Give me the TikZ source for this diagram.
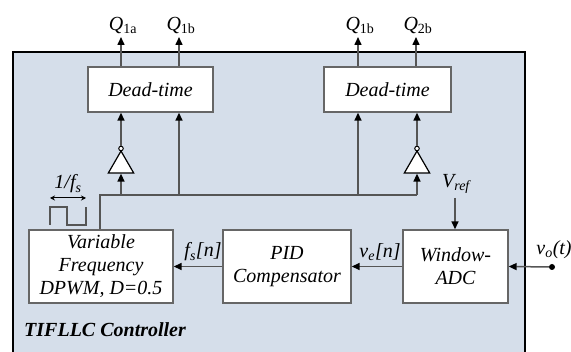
\documentclass[tikz,border=0pt]{standalone}
\usepackage{fontspec}
\setmainfont{Liberation Serif}[Ligatures=TeX]
\newfontfamily\tms{Liberation Serif}
\usetikzlibrary{arrows.meta,shapes.geometric}
\definecolor{bgblue}{HTML}{D5DEEA}
\definecolor{lingray}{HTML}{555555}
\begin{document}
\begin{tikzpicture}[x=1pt,y=-1pt,
  txt/.style={font=\tms\fontsize{20}{23}\selectfont\itshape, inner sep=1pt},
  blk/.style={draw=gray!80!black, line width=1.4pt, fill=white, inner sep=0pt, align=center, txt},
  wire/.style={draw=lingray, line width=1.5pt},
  arr/.style={wire, -{Triangle[length=8pt,width=7pt,color=black]}},
  inv/.style={regular polygon, regular polygon sides=3, minimum size=29.3pt, inner sep=0pt, draw=black, fill=white, line width=1.2pt},
  bub/.style={circle, draw=black, fill=white, inner sep=0pt, minimum size=4.5pt, line width=1pt}]
\useasboundingbox (0,0) rectangle (571,352);
\clip (0,0) rectangle (571,352);
% controller frame
\draw[black, line width=1.4pt, fill=bgblue] (13,52) rectangle (525,370);
% blocks
\node[blk, minimum width=125pt, minimum height=45pt] (dt1) at (150.5,89.5) {Dead-time};
\node[blk, minimum width=127pt, minimum height=45pt] (dt2) at (387.5,89.5) {Dead-time};
\node[blk, minimum width=144pt, minimum height=73pt] (dpwm) at (101,266.5) {Variable\\Frequency\\DPWM, \textit{D}=0.5};
\node[blk, minimum width=128pt, minimum height=73pt] (pid) at (287,266.5) {PID\\Compensator};
\node[blk, minimum width=105pt, minimum height=73pt] (adc) at (455.5,266.5) {Window-\\ADC};
% inverters
\node[inv] (inv1) at (121,165.7) {};
\node[bub] (b1) at (121,148.5) {};
\node[inv] (inv2) at (417,165.7) {};
\node[bub] (b2) at (417,148.5) {};
% junction coordinates
\coordinate (j0) at (100,195);
\coordinate (j1) at (121,195);
\coordinate (j2) at (179,195);
\coordinate (j3) at (358,195);
\coordinate (j4) at (417,195);
% distribution wire
\draw[wire] (dpwm.north -| j0) -- (j0) -- (j4);
\draw[arr] (j1) -- (inv1.south);
\draw[arr] (j4) -- (inv2.south);
\draw[arr] (b1) -- (b1 |- dt1.south);
\draw[arr] (b2) -- (b2 |- dt2.south);
\draw[arr] (j2) -- (j2 |- dt1.south);
\draw[arr] (j3) -- (j3 |- dt2.south);
% outputs
\coordinate (q1) at (121,37);
\coordinate (q2) at (179,37);
\coordinate (q3) at (358,37);
\coordinate (q4) at (416,37);
\draw[arr] (q1 |- dt1.north) -- (q1);
\draw[arr] (q2 |- dt1.north) -- (q2);
\draw[arr] (q3 |- dt2.north) -- (q3);
\draw[arr] (q4 |- dt2.north) -- (q4);
\node[txt, anchor=south] (lq1) at (123,35) {\textit{Q}\textsubscript{\upshape 1a}};
\node[txt, anchor=south] (lq2) at (181,35) {\textit{Q}\textsubscript{\upshape 1b}};
\node[txt, anchor=south] (lq3) at (360,35) {\textit{Q}\textsubscript{\upshape 1b}};
\node[txt, anchor=south] (lq4) at (418,35) {\textit{Q}\textsubscript{\upshape 2b}};
% signal path
\draw[arr] (adc.west) -- (pid.east);
\draw[arr] (pid.west) -- (dpwm.east);
\node[txt] (lve) at (380,252) {\textit{v}\textsubscript{\textit{e}}[\textit{n}]};
\node[txt] (lfs) at (203,252) {\textit{f}\textsubscript{\textit{s}}[\textit{n}]};
% Vref
\node[txt] (vref) at (456,184) {\textit{V}\textsubscript{\textit{ref}}};
\coordinate (vrs) at (455,198);
\draw[arr] (vrs) -- (vrs |- adc.north);
% vo
\node[circle, fill=black, inner sep=0pt, minimum size=6pt] (vo) at (552,267) {};
\draw[arr] (vo) -- (adc.east);
\node[txt, anchor=south] (lvo) at (554,260) {\textit{v}\textsubscript{\textit{o}}(\textit{t})};
% square wave symbol
\draw[wire, line width=1.3pt] (50,225) -- (50,207) -- (67,207) -- (67,225) -- (86,225) -- (86,207);
\draw[black, line width=1pt, {Stealth[length=5pt,width=5pt]}-{Stealth[length=5pt,width=5pt]}] (50,198) -- (86,198);
\node[txt] (lper) at (68,184) {1/\textit{f}\textsubscript{\textit{s}}};
% title
\node[txt, font=\tms\fontsize{20}{23}\selectfont\bfseries\itshape, anchor=west] (title) at (23,330) {TIFLLC Controller};
\end{tikzpicture}
\end{document}
